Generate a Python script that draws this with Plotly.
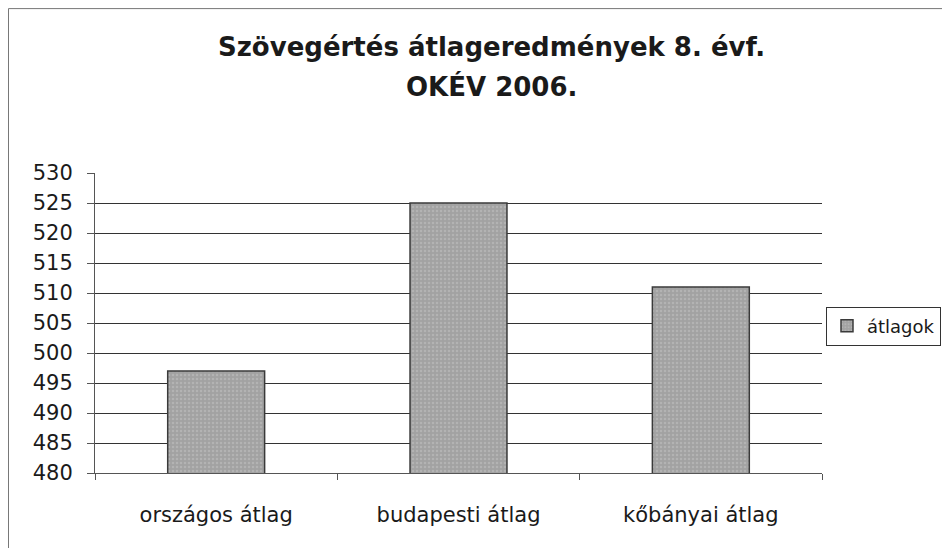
import plotly.graph_objects as go

categories = ["országos átlag", "budapesti átlag", "kőbányai átlag"]
values = [497, 525, 511]
series_name = "átlagok"
y_ticks = [480, 485, 490, 495, 500, 505, 510, 515, 520, 525, 530]
title_lines = ["Szövegértés átlageredmények 8. évf.", "OKÉV 2006."]

FONT = "DejaVu Sans, Liberation Sans, Arial, sans-serif"

fig = go.Figure()
fig.add_trace(go.Bar(
    x=categories, y=values, name=series_name,
    marker=dict(color="#a8a8a8", line=dict(color="#3a3a3a", width=1.5),
                pattern=dict(shape=".", fgcolor="#c4c4c4", bgcolor="#a2a2a2", size=4, solidity=0.3)),
    width=0.4, showlegend=True,
))

fig.update_layout(
    width=942, height=540,
    margin=dict(l=87, r=128, t=165, b=75, autoexpand=False),
    paper_bgcolor="white", plot_bgcolor="white",
    font=dict(family=FONT, size=21, color="#1a1a1a"),
    xaxis=dict(type="category", tickson="boundaries", ticks="outside", ticklen=6,
               tickcolor="#555", showline=True, linecolor="#555", linewidth=1,
               showgrid=False, tickfont=dict(size=21), ticklabelstandoff=23),
    yaxis=dict(range=[480, 530], tickvals=y_ticks, ticks="outside", ticklen=7,
               tickcolor="#555", showline=True, linecolor="#555", linewidth=1,
               showgrid=True, gridcolor="#333", gridwidth=1, tickfont=dict(size=21),
               zeroline=False, ticklabelstandoff=10),
    legend=dict(x=1.0055, y=0.49, xanchor="left", yanchor="middle",
                bordercolor="#333", borderwidth=1, font=dict(size=18),
                itemwidth=30, tracegroupgap=0),
    showlegend=True,
    bargap=0.6,
)

for txt, yy in zip(title_lines, [1.42, 1.287]):
    fig.add_annotation(text="<b>" + txt + "</b>", xref="paper", yref="paper",
                       x=0.546, y=yy, xanchor="center", yanchor="middle",
                       showarrow=False, font=dict(family=FONT, size=26, color="#1a1a1a"))

fig.add_shape(type="rect", xref="paper", yref="paper",
              x0=-0.119, x1=1.2, y0=-0.3, y1=1.548,
              line=dict(color="#777", width=1))

fig.write_html("out.html")
